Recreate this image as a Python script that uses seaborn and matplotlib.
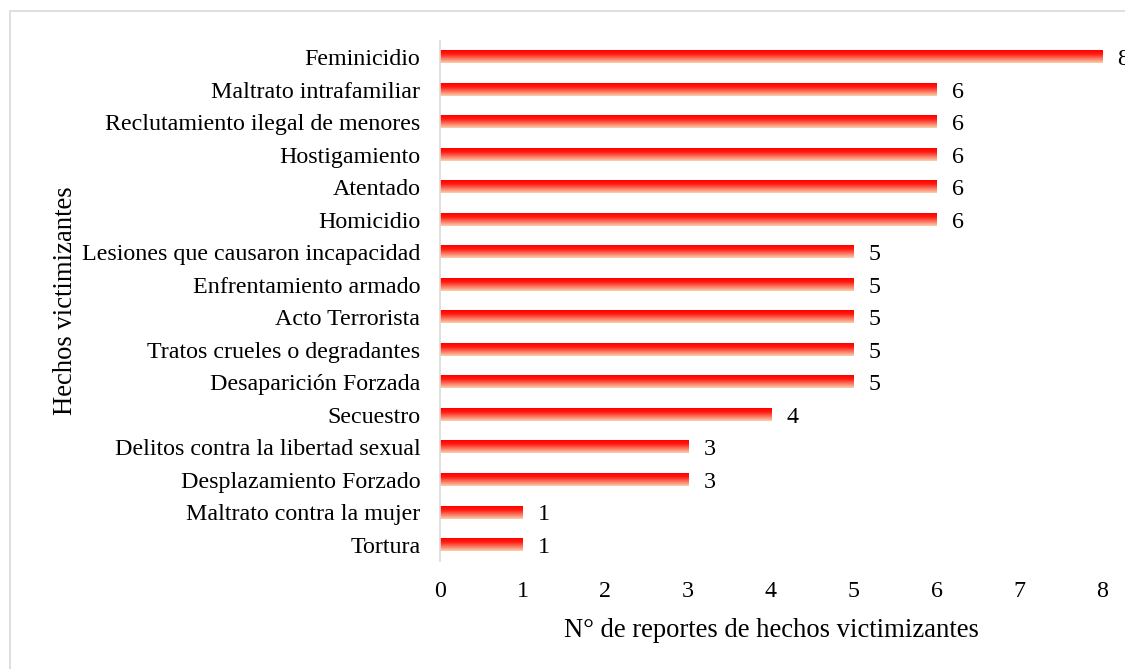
import numpy as np
import matplotlib
matplotlib.use("Agg")
import matplotlib.pyplot as plt
from matplotlib.colors import LinearSegmentedColormap
from matplotlib.patches import Rectangle
import seaborn as sns

# Data (top to bottom)
categorias = [
    "Feminicidio",
    "Maltrato intrafamiliar",
    "Reclutamiento ilegal de menores",
    "Hostigamiento",
    "Atentado",
    "Homicidio",
    "Lesiones que causaron incapacidad",
    "Enfrentamiento armado",
    "Acto Terrorista",
    "Tratos crueles o degradantes",
    "Desaparición Forzada",
    "Secuestro",
    "Delitos contra la libertad sexual",
    "Desplazamiento Forzado",
    "Maltrato contra la mujer",
    "Tortura",
]
reportes = [8, 6, 6, 6, 6, 6, 5, 5, 5, 5, 5, 4, 3, 3, 1, 1]
x_ticks = [0, 1, 2, 3, 4, 5, 6, 7, 8]

sns.set_theme(style="white")
plt.rcParams["font.family"] = ["Liberation Serif", "DejaVu Serif"]

fig = plt.figure(figsize=(11.25, 6.69), dpi=100)
ax = fig.add_axes([0.391, 0.161, 0.5886, 0.778])

sns.barplot(x=reportes, y=categorias, orient="h", width=0.37,
            color="red", ax=ax)

# vertical red -> peach gradient inside each bar
grad_cmap = LinearSegmentedColormap.from_list(
    "rojo", [(0.0, "#FF0000"), (0.3, "#FF1A10"), (1.0, "#F9CFAE")])
grad = np.linspace(0, 1, 64).reshape(-1, 1)
for p in ax.patches:
    x0, y0 = p.get_x(), p.get_y()
    w, h = p.get_width(), p.get_height()
    ax.imshow(grad, cmap=grad_cmap, aspect="auto", interpolation="bilinear",
              extent=[x0, x0 + w, y0 + h, y0], zorder=2)
    p.set_visible(False)
    ax.annotate(f"{int(w)}", xy=(x0 + w, y0 + h / 2), xytext=(11, 0),
                textcoords="offset points", ha="left", va="center_baseline",
                fontsize=17.3, color="black", annotation_clip=False)

ax.set_xlim(0, 8)
ax.set_ylim(len(categorias) - 0.5, -0.5)
ax.set_xticks(x_ticks)
ax.tick_params(axis="x", length=0, pad=14, labelsize=17.3, colors="black")
ax.tick_params(axis="y", length=0, pad=14, labelsize=17.3, colors="black")

for s in ["top", "right", "bottom"]:
    ax.spines[s].set_visible(False)
ax.spines["left"].set_color("#D9D9D9")
ax.spines["left"].set_linewidth(1.2)

ax.set_xlabel("N° de reportes de hechos victimizantes", fontsize=19.2,
              color="black", labelpad=11.5)
ax.set_ylabel("Hechos victimizantes", fontsize=19.2, color="black", labelpad=3)

# outer chart-area border (partly cut off on right and bottom)
fig.add_artist(Rectangle((10 / 1125, -0.1), 2, 1.1 - 11 / 669,
                         transform=fig.transFigure, fill=False,
                         edgecolor="#D9D9D9", linewidth=1.2))

fig.savefig("out.png", dpi=100)
